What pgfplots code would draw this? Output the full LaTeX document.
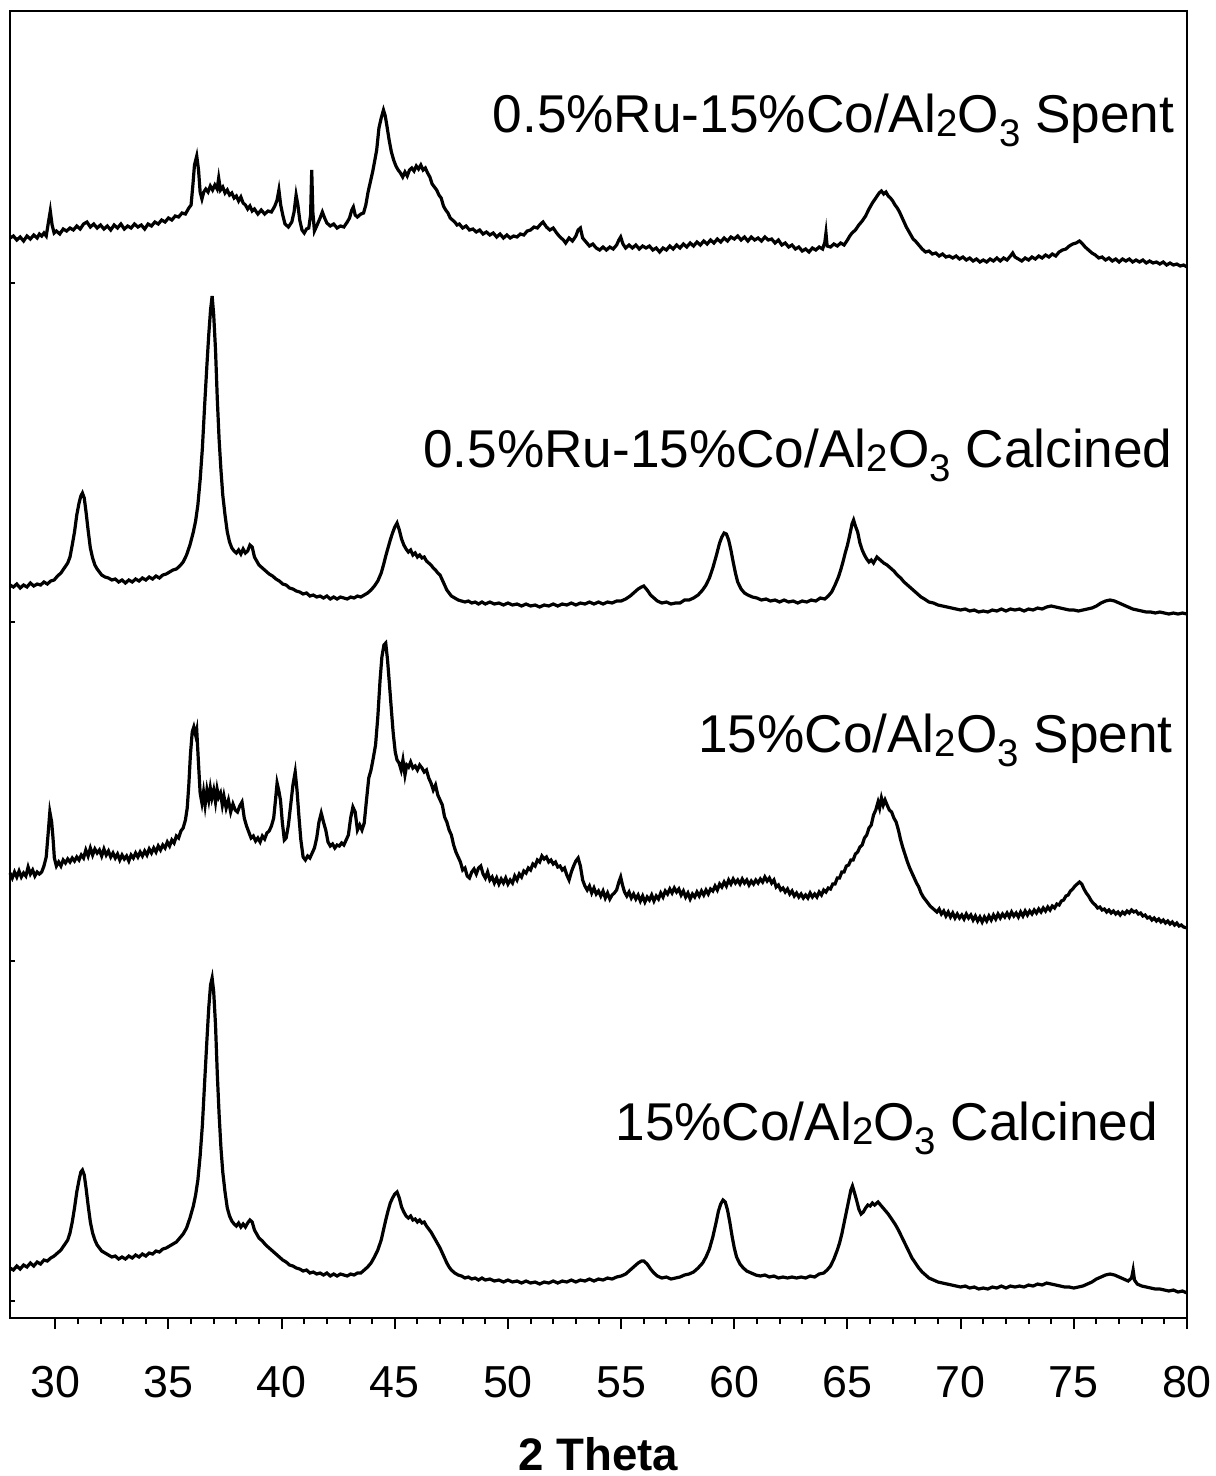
\documentclass[border=0pt]{standalone}
\usepackage{fontspec}
\setmainfont{Liberation Sans}
\usepackage{pgfplots}
\pgfplotsset{compat=1.18}
\newcommand{\lab}[1]{\fontsize{13.3pt}{15pt}\selectfont #1}
\newcommand{\subA}[1]{\raisebox{-1.2pt}{\fontsize{9.6pt}{10pt}\selectfont #1}}
\newcommand{\subB}[1]{\raisebox{-3.6pt}{\fontsize{9.6pt}{10pt}\selectfont #1}}
\begin{document}
\begin{tikzpicture}
\useasboundingbox (-2.5pt,-39.5pt) rectangle (301.25pt,329.5pt);
\begin{axis}[scale only axis, width=294.25pt, height=326.75pt,
  xmin=28, xmax=80, ymin=11, ymax=1318, y dir=reverse,
  xtick=\empty, ytick={283,622,961,1301}, yticklabels={},
  tick align=inside, major tick length=1.2pt, ytick pos=left,
  axis line style={line width=0.55pt}, every tick/.style={black,line width=0.5pt},
  clip=false]
\addplot[black, line width=0.8pt] coordinates {
(28.0,238) (28.15,236) (28.3,240) (28.45,237) (28.6,241) (28.75,236) (28.9,239) (29.05,235) (29.2,238) (29.3,234) (29.4,236) (29.5,233) (29.6,236) (29.7,222) (29.78,211) (29.86,225) (29.95,233)
(30.05,231) (30.2,234) (30.35,229) (30.5,231) (30.65,228) (30.8,230) (30.95,226) (31.1,229) (31.25,224) (31.4,222) (31.55,227) (31.7,224) (31.85,228) (32.0,225) (32.15,229) (32.3,226) (32.45,230) (32.6,225) (32.75,228) (32.9,224)
(33.05,229) (33.2,226) (33.35,228) (33.5,224) (33.65,227) (33.8,225) (33.95,229) (34.1,224) (34.25,226) (34.4,222) (34.55,224) (34.7,220) (34.85,222) (35.0,218) (35.15,220) (35.3,216) (35.45,217) (35.6,213) (35.75,214) (35.9,208)
(36.0,205) (36.08,185) (36.15,165) (36.25,156) (36.33,170) (36.4,192) (36.48,199) (36.56,192) (36.65,189) (36.75,192) (36.85,186) (36.95,190) (37.05,185) (37.15,189) (37.22,178) (37.3,190) (37.4,187) (37.5,193) (37.6,190) (37.7,195) (37.8,193) (37.9,198)
(38.0,196) (38.1,201) (38.2,197) (38.3,203) (38.4,205) (38.5,209) (38.6,206) (38.7,211) (38.8,209) (38.95,214) (39.1,210) (39.25,214) (39.4,211) (39.55,212) (39.7,206) (39.8,200) (39.88,190) (39.96,205)
(40.05,215) (40.15,224) (40.3,227) (40.45,222) (40.55,212) (40.64,195) (40.72,205) (40.8,220) (40.9,230) (41.0,233) (41.1,229) (41.2,228) (41.28,215) (41.33,170) (41.38,212) (41.45,231) (41.55,226) (41.7,218) (41.8,212) (41.9,218)
(42.0,223) (42.15,226) (42.3,224) (42.45,228) (42.6,226) (42.75,227) (42.9,222) (43.0,218) (43.1,210) (43.17,207) (43.25,215) (43.35,217) (43.5,214) (43.62,213) (43.72,205) (43.82,192) (43.92,182)
(44.02,172) (44.12,160) (44.2,150) (44.3,128) (44.4,118) (44.5,110) (44.58,116) (44.66,127) (44.75,140) (44.85,152) (44.95,160) (45.05,166) (45.15,170) (45.25,173) (45.35,177) (45.45,172) (45.55,176) (45.65,170) (45.75,168) (45.85,171) (45.95,166)
(46.05,169) (46.15,165) (46.25,170) (46.35,168) (46.45,173) (46.55,177) (46.65,184) (46.75,187) (46.85,190) (46.95,195) (47.05,198) (47.15,206) (47.25,210) (47.35,213) (47.45,218) (47.55,220) (47.65,222) (47.75,225) (47.85,224)
(48.0,228) (48.15,226) (48.3,230) (48.45,229) (48.6,232) (48.75,230) (48.9,234) (49.05,232) (49.2,235) (49.35,233) (49.5,237) (49.65,234) (49.8,238) (49.95,235) (50.1,238) (50.25,236) (50.4,237) (50.55,234) (50.7,235) (50.85,231)
(51.0,230) (51.15,227) (51.3,228) (51.45,224) (51.55,222) (51.7,227) (51.85,230) (52.0,228) (52.15,233) (52.3,237) (52.45,240) (52.55,243) (52.7,238) (52.85,241) (53.0,236) (53.1,230) (53.2,228) (53.3,238) (53.45,242) (53.6,246) (53.75,244) (53.9,248)
(54.05,250) (54.2,247) (54.35,250) (54.5,247) (54.65,249) (54.8,245) (54.9,240) (54.98,237) (55.08,244) (55.2,248) (55.35,245) (55.5,248) (55.65,245) (55.8,249) (55.95,246) (56.1,248) (56.25,246) (56.4,250) (56.55,248) (56.7,252) (56.85,248)
(57.0,250) (57.15,246) (57.3,249) (57.45,245) (57.6,248) (57.75,244) (57.9,247) (58.05,243) (58.2,246) (58.35,242) (58.5,245) (58.65,241) (58.8,244) (58.95,240) (59.1,243) (59.25,239) (59.4,242) (59.55,238) (59.7,241) (59.85,237)
(60.0,239) (60.15,236) (60.3,240) (60.45,237) (60.6,241) (60.75,237) (60.9,240) (61.05,238) (61.2,241) (61.35,237) (61.5,240) (61.65,239) (61.8,243) (61.95,240) (62.1,245) (62.25,243) (62.4,247) (62.55,245) (62.7,249) (62.85,247)
(63.0,251) (63.15,249) (63.3,252) (63.45,248) (63.6,250) (63.75,247) (63.9,249) (64.0,242) (64.05,233) (64.1,246) (64.25,247) (64.4,244) (64.55,246) (64.7,243) (64.85,245) (65.0,240) (65.1,236) (65.2,233) (65.35,230) (65.5,225) (65.65,221) (65.8,216) (65.95,209)
(66.1,203) (66.25,198) (66.4,193) (66.5,191) (66.6,194) (66.7,192) (66.8,196) (66.9,198) (67.0,201) (67.1,205) (67.2,208) (67.3,212) (67.4,217) (67.5,222) (67.6,227) (67.7,231) (67.8,235) (67.9,239)
(68.0,241) (68.15,245) (68.3,249) (68.45,252) (68.6,251) (68.75,254) (68.9,253) (69.05,256) (69.2,254) (69.35,257) (69.5,256) (69.65,258) (69.8,256) (69.95,259) (70.1,257) (70.25,260) (70.4,258) (70.55,261) (70.7,259) (70.85,262)
(71.0,260) (71.15,262) (71.3,259) (71.45,261) (71.6,258) (71.75,261) (71.9,258) (72.05,260) (72.2,256) (72.3,253) (72.4,257) (72.55,259) (72.7,261) (72.85,258) (73.0,260) (73.15,257) (73.3,259) (73.45,256) (73.6,258) (73.75,255) (73.9,257)
(74.05,254) (74.2,256) (74.35,252) (74.5,250) (74.65,249) (74.8,246) (74.95,244) (75.1,243) (75.25,241) (75.35,243) (75.5,247) (75.65,250) (75.8,253) (75.95,255) (76.1,258) (76.25,257) (76.4,260) (76.55,258) (76.7,261) (76.85,259)
(77.0,262) (77.15,259) (77.3,261) (77.45,259) (77.6,262) (77.75,260) (77.9,262) (78.05,260) (78.2,263) (78.35,261) (78.5,263) (78.65,262) (78.8,264) (78.95,262) (79.1,265) (79.25,263) (79.4,265) (79.55,264) (79.7,266) (79.85,265) (80.0,267)
};
\addplot[black, line width=0.8pt] coordinates {
(28.0,585) (28.15,587) (28.3,584) (28.45,588) (28.6,585) (28.75,587) (28.9,583) (29.05,586) (29.2,584) (29.35,585) (29.5,582) (29.65,584) (29.8,581) (29.95,580)
(30.1,576) (30.25,573) (30.4,568) (30.55,563) (30.65,557) (30.75,545) (30.85,532) (30.95,515) (31.05,503) (31.13,496) (31.2,493) (31.28,498) (31.36,512) (31.45,530) (31.55,548) (31.65,558) (31.75,565) (31.85,569) (31.95,572)
(32.05,575) (32.2,577) (32.35,578) (32.5,580) (32.65,579) (32.8,582) (32.95,580) (33.1,583) (33.25,580) (33.4,582) (33.55,579) (33.7,581) (33.85,578) (34.0,580) (34.15,577) (34.3,579) (34.45,576) (34.6,578) (34.75,575) (34.9,574)
(35.05,572) (35.2,570) (35.35,569) (35.5,566) (35.65,562) (35.8,555) (35.95,545) (36.1,532) (36.2,521) (36.3,505) (36.4,480) (36.5,448) (36.6,405) (36.7,365) (36.78,335) (36.86,310) (36.93,296)
(37.0,315) (37.08,350) (37.16,400) (37.24,440) (37.32,470) (37.4,495) (37.5,515) (37.6,532) (37.7,542) (37.8,548) (37.9,551) (38.0,553) (38.1,550) (38.2,554) (38.3,549) (38.4,553) (38.5,551) (38.6,545) (38.7,547) (38.8,557) (38.9,561)
(39.0,565) (39.15,568) (39.3,571) (39.45,574) (39.6,576) (39.75,579) (39.9,581) (40.05,584) (40.2,585) (40.35,588) (40.5,589) (40.65,591) (40.8,592) (40.95,594) (41.1,593) (41.25,596) (41.4,595) (41.55,597) (41.7,596) (41.85,598)
(42.0,596) (42.15,599) (42.3,597) (42.45,599) (42.6,597) (42.75,598) (42.9,599) (43.05,597) (43.2,598) (43.35,596) (43.5,597) (43.65,595) (43.8,593) (43.95,590) (44.1,586) (44.25,581) (44.4,573) (44.5,565) (44.6,556) (44.7,548) (44.8,540) (44.9,533)
(45.0,527) (45.1,523) (45.2,530) (45.3,539) (45.4,545) (45.5,549) (45.6,552) (45.7,550) (45.8,555) (45.9,553) (46.0,557) (46.1,555) (46.2,558) (46.3,557) (46.4,561) (46.5,563) (46.6,565) (46.7,568) (46.8,570) (46.9,573)
(47.0,575) (47.1,580) (47.2,585) (47.3,590) (47.4,593) (47.5,596) (47.65,598) (47.8,600) (47.95,601) (48.1,602) (48.25,601) (48.4,603) (48.55,602) (48.7,604) (48.85,602) (49.0,604) (49.2,602) (49.4,604) (49.6,603) (49.8,605)
(50.0,603) (50.2,605) (50.4,604) (50.6,606) (50.8,604) (51.0,606) (51.2,605) (51.4,607) (51.6,605) (51.8,606) (52.0,604) (52.2,606) (52.4,604) (52.6,605) (52.8,603) (53.0,605) (53.2,603) (53.4,604) (53.6,602) (53.8,604)
(54.0,602) (54.2,604) (54.4,602) (54.6,603) (54.8,601) (55.0,601) (55.2,599) (55.4,596) (55.6,592) (55.75,589) (55.9,587) (56.0,586) (56.15,590) (56.3,595) (56.45,598) (56.6,601) (56.8,603) (57.0,602) (57.2,604) (57.4,603) (57.6,603) (57.8,600)
(58.0,600) (58.2,598) (58.4,595) (58.6,590) (58.75,585) (58.9,578) (59.05,568) (59.2,556) (59.35,543) (59.45,537) (59.55,533) (59.65,534) (59.75,540) (59.85,550) (59.95,562) (60.05,573) (60.15,582) (60.3,589) (60.45,593) (60.6,595) (60.8,597)
(61.0,598) (61.2,600) (61.4,599) (61.6,601) (61.8,600) (62.0,602) (62.2,600) (62.4,602) (62.6,601) (62.8,603) (63.0,601) (63.2,602) (63.4,600) (63.6,601) (63.8,598) (64.0,599) (64.15,596) (64.3,592) (64.45,585) (64.6,577) (64.7,570) (64.8,562) (64.9,553)
(65.0,545) (65.1,535) (65.2,524) (65.27,520) (65.35,526) (65.45,532) (65.55,543) (65.65,550) (65.75,555) (65.85,559) (65.95,562) (66.05,560) (66.15,563) (66.3,557) (66.45,560) (66.6,563) (66.75,565) (66.9,568)
(67.05,571) (67.2,575) (67.35,578) (67.5,582) (67.65,585) (67.8,588) (67.95,591) (68.1,594) (68.25,597) (68.4,599) (68.6,602) (68.8,603) (69.0,605) (69.2,606) (69.4,607) (69.6,608) (69.8,609)
(70.0,610) (70.2,609) (70.4,611) (70.6,610) (70.8,612) (71.0,611) (71.2,612) (71.4,610) (71.6,611) (71.8,609) (72.0,611) (72.2,609) (72.4,610) (72.6,609) (72.8,611) (73.0,609) (73.2,610) (73.4,608) (73.6,609) (73.8,607)
(74.0,606) (74.2,607) (74.4,608) (74.6,609) (74.8,610) (75.0,610) (75.2,611) (75.4,610) (75.6,609) (75.8,608) (76.0,606) (76.2,603) (76.4,601) (76.6,600) (76.8,601) (77.0,603) (77.2,605) (77.4,607) (77.6,609) (77.8,610)
(78.0,611) (78.2,612) (78.4,612) (78.6,613) (78.8,612) (79.0,613) (79.2,614) (79.4,613) (79.6,614) (79.8,613) (80.0,614)
};
\addplot[black, line width=0.8pt] coordinates {
(28.0,873) (28.1,878) (28.2,872) (28.3,877) (28.4,871) (28.5,877) (28.6,873) (28.7,876) (28.8,867) (28.9,874) (29.0,870) (29.1,876) (29.2,872) (29.3,874) (29.4,872) (29.5,866) (29.6,857) (29.68,835) (29.76,812) (29.84,822) (29.9,838) (29.96,858)
(30.05,866) (30.15,862) (30.25,866) (30.35,860) (30.45,863) (30.55,859) (30.65,862) (30.75,858) (30.85,861) (30.95,857) (31.05,860) (31.15,855) (31.25,858) (31.35,850) (31.45,856) (31.55,848) (31.65,855) (31.75,849) (31.85,853) (31.95,850)
(32.05,856) (32.15,849) (32.25,855) (32.35,851) (32.45,857) (32.55,853) (32.65,858) (32.75,854) (32.85,860) (32.95,855) (33.05,859) (33.15,856) (33.25,861) (33.35,855) (33.45,858) (33.55,853) (33.65,857) (33.75,852) (33.85,856) (33.95,851)
(34.05,855) (34.15,849) (34.25,853) (34.35,848) (34.45,852) (34.55,846) (34.65,850) (34.75,845) (34.85,848) (34.95,842) (35.05,846) (35.15,840) (35.25,843) (35.35,836) (35.45,838) (35.55,831) (35.65,828) (35.75,820) (35.83,808) (35.9,785) (35.97,755)
(36.05,732) (36.12,727) (36.2,735) (36.25,730) (36.32,760) (36.4,793) (36.48,803) (36.55,792) (36.62,805) (36.7,790) (36.78,800) (36.85,788) (36.92,798) (37.0,790) (37.08,802) (37.15,789) (37.22,797) (37.3,793) (37.38,805) (37.45,796) (37.55,808) (37.65,800) (37.75,812) (37.85,804) (37.95,810)
(38.05,812) (38.15,806) (38.25,802) (38.35,818) (38.45,826) (38.55,832) (38.65,838) (38.75,836) (38.85,841) (38.95,838) (39.05,842) (39.15,836) (39.25,839) (39.35,833) (39.45,831) (39.55,826) (39.65,818) (39.73,800) (39.8,783) (39.87,790) (39.95,800)
(40.03,822) (40.12,840) (40.2,838) (40.3,825) (40.4,805) (40.5,785) (40.6,772) (40.68,790) (40.76,815) (40.85,840) (40.95,857) (41.05,860) (41.15,856) (41.25,858) (41.35,853) (41.45,848) (41.55,838) (41.65,822) (41.75,813) (41.85,822) (41.95,830)
(42.05,842) (42.15,846) (42.25,844) (42.35,848) (42.45,845) (42.55,846) (42.65,843) (42.75,845) (42.85,840) (42.95,835) (43.05,818) (43.15,807) (43.25,812) (43.35,830) (43.45,825) (43.55,830) (43.65,823) (43.75,800) (43.85,778) (43.95,770)
(44.05,758) (44.15,745) (44.25,717) (44.35,680) (44.43,657) (44.52,645) (44.6,643) (44.68,660) (44.76,683) (44.85,710) (44.93,733) (45.02,752) (45.1,760) (45.19,763) (45.28,770) (45.36,760) (45.45,775) (45.53,765) (45.61,767) (45.7,762) (45.8,768) (45.9,766)
(46.0,770) (46.1,765) (46.2,768) (46.3,772) (46.4,770) (46.5,778) (46.6,783) (46.7,790) (46.8,785) (46.9,795) (47.0,800) (47.1,805) (47.2,817) (47.3,822) (47.4,830) (47.5,835) (47.6,845) (47.7,852) (47.8,857) (47.9,862)
(48.0,870) (48.1,868) (48.2,876) (48.3,878) (48.4,872) (48.5,869) (48.6,874) (48.7,868) (48.8,866) (48.9,874) (49.0,878) (49.1,872) (49.2,880) (49.3,877) (49.4,883) (49.5,878) (49.6,884) (49.7,879) (49.8,883) (49.9,878)
(50.0,884) (50.1,880) (50.2,883) (50.3,876) (50.4,880) (50.5,874) (50.6,877) (50.7,871) (50.8,873) (50.9,868) (51.0,870) (51.1,864) (51.2,866) (51.3,860) (51.4,862) (51.5,856) (51.6,859) (51.7,857) (51.8,862) (51.9,860)
(52.0,864) (52.1,862) (52.2,867) (52.3,866) (52.4,870) (52.5,868) (52.6,875) (52.7,880) (52.8,872) (52.9,866) (53.0,861) (53.1,858) (53.2,866) (53.3,880) (53.4,886) (53.5,890) (53.6,886) (53.7,893) (53.8,888) (53.9,894)
(54.0,891) (54.1,896) (54.2,891) (54.3,898) (54.4,893) (54.5,899) (54.6,895) (54.7,893) (54.8,890) (54.9,882) (54.98,877) (55.06,885) (55.15,892) (55.25,896) (55.35,892) (55.45,898) (55.55,894) (55.65,899) (55.75,895) (55.85,901) (55.95,896)
(56.05,902) (56.15,897) (56.25,900) (56.35,895) (56.45,901) (56.55,896) (56.65,899) (56.75,893) (56.85,897) (56.95,891) (57.05,894) (57.15,889) (57.25,893) (57.35,888) (57.45,892) (57.55,889) (57.65,895) (57.75,891) (57.85,897) (57.95,893)
(58.05,899) (58.15,894) (58.25,897) (58.35,892) (58.45,896) (58.55,891) (58.65,895) (58.75,890) (58.85,894) (58.95,889) (59.05,891) (59.15,886) (59.25,890) (59.35,884) (59.45,887) (59.55,882) (59.65,886) (59.75,880) (59.85,884) (59.95,879)
(60.05,883) (60.15,880) (60.25,884) (60.35,879) (60.45,883) (60.55,880) (60.65,885) (60.75,881) (60.85,884) (60.95,880) (61.05,883) (61.15,879) (61.25,882) (61.35,877) (61.45,881) (61.55,878) (61.65,883) (61.75,880) (61.85,887) (61.95,885)
(62.05,890) (62.15,888) (62.25,892) (62.35,889) (62.45,894) (62.55,891) (62.65,896) (62.75,893) (62.85,897) (62.95,894) (63.05,898) (63.15,895) (63.25,898) (63.35,893) (63.45,897) (63.55,894) (63.65,897) (63.75,892) (63.85,895) (63.95,890)
(64.05,892) (64.15,888) (64.25,889) (64.35,884) (64.45,884) (64.55,878) (64.65,878) (64.75,872) (64.85,872) (64.95,866) (65.05,865) (65.15,860) (65.25,860) (65.35,854) (65.45,852) (65.55,847) (65.65,845) (65.75,838) (65.85,835) (65.95,828)
(66.05,825) (66.15,815) (66.25,810) (66.35,802) (66.42,808) (66.5,798) (66.58,805) (66.66,800) (66.75,805) (66.85,810) (66.95,812) (67.05,818) (67.15,822) (67.25,830) (67.35,840) (67.45,848) (67.55,855) (67.65,862) (67.75,868) (67.85,873) (67.95,878)
(68.05,883) (68.15,887) (68.25,893) (68.35,897) (68.45,900) (68.55,903) (68.65,906) (68.75,908) (68.85,910) (68.95,912) (69.05,909) (69.15,914) (69.25,911) (69.35,916) (69.45,912) (69.55,917) (69.65,913) (69.75,918) (69.85,914) (69.95,918)
(70.05,915) (70.15,919) (70.25,914) (70.35,918) (70.45,915) (70.55,920) (70.65,916) (70.75,921) (70.85,917) (70.95,922) (71.05,917) (71.15,921) (71.25,916) (71.35,920) (71.45,915) (71.55,919) (71.65,914) (71.75,918) (71.85,914) (71.95,917)
(72.05,913) (72.15,917) (72.25,912) (72.35,916) (72.45,913) (72.55,917) (72.65,912) (72.75,916) (72.85,911) (72.95,915) (73.05,911) (73.15,914) (73.25,910) (73.35,913) (73.45,909) (73.55,912) (73.65,908) (73.75,911) (73.85,907) (73.95,910)
(74.05,906) (74.15,908) (74.25,904) (74.35,905) (74.45,901) (74.55,900) (74.65,896) (74.75,895) (74.85,891) (74.95,889) (75.05,886) (75.15,884) (75.25,882) (75.35,884) (75.45,889) (75.55,893) (75.65,896) (75.75,900) (75.85,903) (75.95,905)
(76.05,908) (76.15,907) (76.25,910) (76.35,909) (76.45,912) (76.55,910) (76.65,913) (76.75,911) (76.85,914) (76.95,912) (77.05,915) (77.15,912) (77.25,914) (77.35,911) (77.45,913) (77.55,910) (77.65,912) (77.75,911) (77.85,914) (77.95,913)
(78.05,916) (78.15,915) (78.25,918) (78.35,917) (78.45,920) (78.55,918) (78.65,921) (78.75,919) (78.85,922) (78.95,920) (79.05,923) (79.15,921) (79.25,924) (79.35,922) (79.45,925) (79.55,923) (79.65,926) (79.75,925) (79.85,927) (80.0,928)
};
\addplot[black, line width=0.8pt] coordinates {
(28.0,1268) (28.15,1270) (28.3,1266) (28.45,1269) (28.6,1265) (28.75,1267) (28.9,1263) (29.05,1266) (29.2,1262) (29.35,1264) (29.5,1260) (29.65,1261) (29.8,1258) (29.95,1256)
(30.1,1253) (30.25,1250) (30.4,1245) (30.55,1240) (30.65,1233) (30.75,1222) (30.85,1208) (30.95,1192) (31.05,1180) (31.13,1172) (31.2,1170) (31.28,1175) (31.36,1188) (31.45,1205) (31.55,1222) (31.65,1233) (31.75,1240) (31.85,1245) (31.95,1248)
(32.05,1251) (32.2,1253) (32.35,1255) (32.5,1257) (32.65,1256) (32.8,1259) (32.95,1257) (33.1,1259) (33.25,1256) (33.4,1258) (33.55,1255) (33.7,1257) (33.85,1254) (34.0,1256) (34.15,1253) (34.3,1254) (34.45,1251) (34.6,1252) (34.75,1249) (34.9,1248)
(35.05,1246) (35.2,1244) (35.35,1242) (35.5,1238) (35.65,1234) (35.8,1228) (35.95,1218) (36.1,1206) (36.2,1195) (36.3,1180) (36.4,1156) (36.5,1125) (36.6,1082) (36.7,1040) (36.78,1008) (36.86,985) (36.93,978)
(37.0,992) (37.08,1025) (37.16,1075) (37.24,1115) (37.32,1148) (37.4,1172) (37.5,1192) (37.6,1208) (37.7,1216) (37.8,1221) (37.9,1224) (38.0,1226) (38.1,1223) (38.2,1227) (38.3,1224) (38.4,1227) (38.5,1223) (38.6,1220) (38.7,1222) (38.8,1230) (38.9,1234)
(39.0,1238) (39.15,1241) (39.3,1245) (39.45,1248) (39.6,1251) (39.75,1254) (39.9,1257) (40.05,1260) (40.2,1262) (40.35,1265) (40.5,1266) (40.65,1268) (40.8,1269) (40.95,1271) (41.1,1270) (41.25,1273) (41.4,1272) (41.55,1274) (41.7,1273) (41.85,1275)
(42.0,1273) (42.15,1276) (42.3,1274) (42.45,1276) (42.6,1274) (42.75,1275) (42.9,1276) (43.05,1274) (43.2,1275) (43.35,1273) (43.5,1273) (43.65,1270) (43.8,1267) (43.95,1263) (44.1,1257) (44.25,1250) (44.4,1240) (44.5,1230) (44.6,1220) (44.7,1211) (44.8,1203) (44.9,1198)
(45.0,1194) (45.1,1192) (45.2,1198) (45.3,1207) (45.4,1212) (45.5,1216) (45.6,1218) (45.7,1216) (45.8,1220) (45.9,1219) (46.0,1222) (46.1,1220) (46.2,1223) (46.3,1222) (46.4,1226) (46.5,1229) (46.6,1232) (46.7,1236) (46.8,1240) (46.9,1244)
(47.0,1248) (47.1,1253) (47.2,1258) (47.3,1263) (47.4,1267) (47.5,1270) (47.65,1273) (47.8,1275) (47.95,1276) (48.1,1278) (48.25,1277) (48.4,1279) (48.55,1278) (48.7,1280) (48.85,1278) (49.0,1280) (49.2,1279) (49.4,1281) (49.6,1280) (49.8,1282)
(50.0,1280) (50.2,1282) (50.4,1281) (50.6,1283) (50.8,1281) (51.0,1283) (51.2,1282) (51.4,1284) (51.6,1282) (51.8,1283) (52.0,1281) (52.2,1283) (52.4,1281) (52.6,1282) (52.8,1280) (53.0,1282) (53.2,1280) (53.4,1281) (53.6,1279) (53.8,1281)
(54.0,1279) (54.2,1280) (54.4,1278) (54.6,1279) (54.8,1277) (55.0,1276) (55.2,1274) (55.4,1270) (55.6,1266) (55.75,1263) (55.9,1261) (56.0,1261) (56.15,1264) (56.3,1269) (56.45,1273) (56.6,1276) (56.8,1278) (57.0,1277) (57.2,1279) (57.4,1278) (57.6,1277) (57.8,1275)
(58.0,1274) (58.2,1272) (58.4,1268) (58.6,1263) (58.75,1257) (58.9,1249) (59.05,1237) (59.2,1222) (59.3,1211) (59.4,1204) (59.5,1200) (59.6,1202) (59.7,1210) (59.8,1222) (59.9,1236) (60.0,1248) (60.1,1257) (60.25,1264) (60.4,1268) (60.55,1271) (60.75,1273) (60.95,1275)
(61.15,1276) (61.35,1275) (61.55,1277) (61.75,1276) (61.95,1278) (62.15,1277) (62.35,1278) (62.55,1277) (62.75,1278) (62.95,1277) (63.15,1278) (63.35,1276) (63.55,1277) (63.75,1274) (63.95,1273) (64.1,1270) (64.25,1266) (64.4,1259) (64.55,1250) (64.65,1243) (64.75,1234) (64.85,1223) (64.95,1212)
(65.05,1201) (65.15,1190) (65.22,1186) (65.3,1192) (65.4,1200) (65.5,1209) (65.6,1214) (65.7,1212) (65.8,1208) (65.9,1205) (66.0,1206) (66.1,1203) (66.2,1205) (66.35,1202) (66.5,1206) (66.65,1210) (66.8,1214) (66.95,1219)
(67.1,1224) (67.25,1230) (67.4,1237) (67.55,1244) (67.7,1251) (67.85,1258) (68.0,1263) (68.15,1268) (68.3,1272) (68.45,1275) (68.6,1278) (68.8,1280) (69.0,1282) (69.2,1283) (69.4,1284) (69.6,1285) (69.8,1286)
(70.0,1287) (70.2,1286) (70.4,1288) (70.6,1287) (70.8,1289) (71.0,1288) (71.2,1289) (71.4,1287) (71.6,1288) (71.8,1286) (72.0,1288) (72.2,1286) (72.4,1287) (72.6,1286) (72.8,1287) (73.0,1285) (73.2,1286) (73.4,1284) (73.6,1285) (73.8,1283)
(74.0,1284) (74.2,1285) (74.4,1286) (74.6,1287) (74.8,1287) (75.0,1288) (75.2,1287) (75.4,1286) (75.6,1284) (75.8,1282) (76.0,1279) (76.2,1277) (76.4,1275) (76.6,1274) (76.8,1275) (77.0,1277) (77.2,1279) (77.4,1281) (77.55,1278) (77.62,1270) (77.68,1280) (77.8,1284)
(78.0,1286) (78.2,1287) (78.4,1288) (78.6,1289) (78.8,1289) (79.0,1290) (79.2,1291) (79.4,1290) (79.6,1292) (79.8,1291) (80.0,1293)
};
\node[anchor=base east, inner sep=0pt] at (axis cs:79.47,132) {\lab{0.5\%Ru-15\%Co/Al\subA{2}O\subB{3} Spent}};
\node[anchor=base east, inner sep=0pt] at (axis cs:79.4,467) {\lab{0.5\%Ru-15\%Co/Al\subA{2}O\subB{3} Calcined}};
\node[anchor=base east, inner sep=0pt] at (axis cs:79.4,752) {\lab{15\%Co/Al\subA{2}O\subB{3} Spent}};
\node[anchor=base east, inner sep=0pt] at (axis cs:78.75,1140) {\lab{15\%Co/Al\subA{2}O\subB{3} Calcined}};
\end{axis}
\begin{axis}[scale only axis, width=294.25pt, height=326.75pt,
  xmin=28, xmax=80, ymin=0, ymax=1, ytick=\empty,
  xtick={30,35,...,80}, minor x tick num=4, tick align=outside,
  major tick length=2.75pt, minor tick length=1.5pt, xtick pos=bottom,
  axis line style={line width=0.55pt}, every tick/.style={black,line width=0.5pt},
  /pgf/number format/assume math mode=true,
  xticklabel style={font=\fontsize{11.2pt}{13pt}\selectfont, anchor=base, yshift=-17pt},
  typeset ticklabels with strut,
  xlabel={\bfseries 2 Theta},
  xlabel style={font=\fontsize{11.4pt}{13pt}\selectfont, at={(axis description cs:0.5,0)}, anchor=base, yshift=-38.2pt, inner sep=0pt}]
\end{axis}
\end{tikzpicture}
\end{document}
